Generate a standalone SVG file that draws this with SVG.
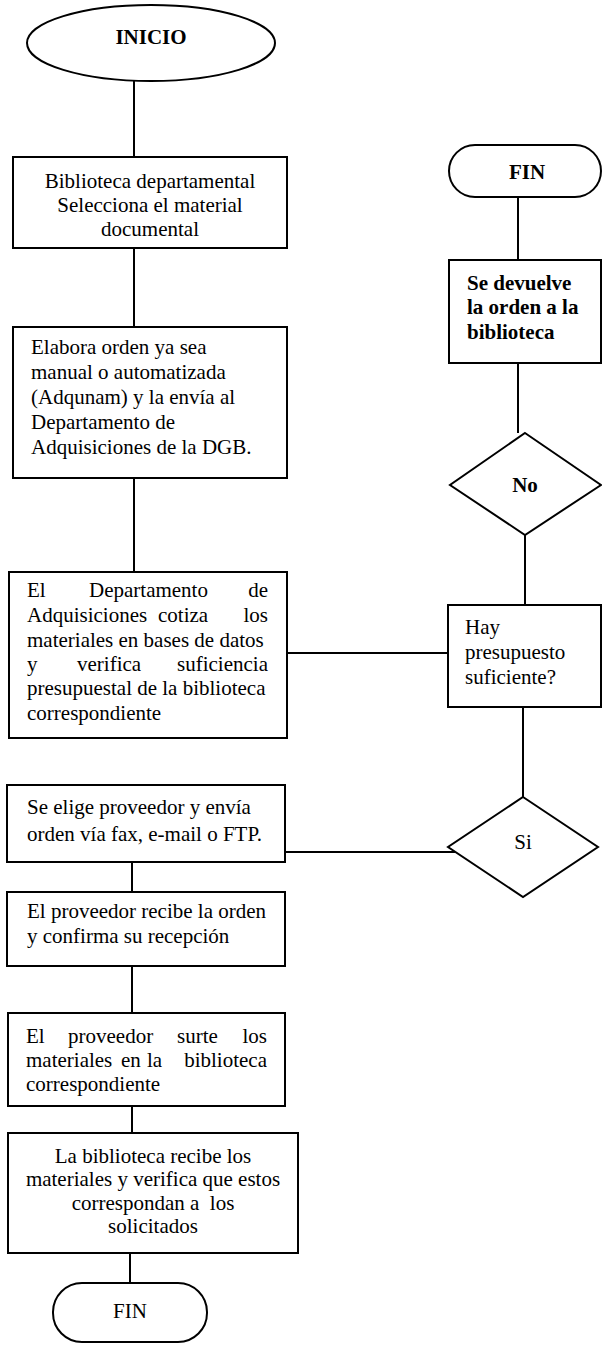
<svg xmlns="http://www.w3.org/2000/svg" width="602" height="1356" viewBox="0 0 602 1356">
<style>
.s{fill:none;stroke:#000;stroke-width:2}
.n{fill:#fff;stroke:#000;stroke-width:2}
text{font-family:"Liberation Serif","Times New Roman",serif;font-size:21px;fill:#000}
.c{text-anchor:middle}
.b{font-weight:bold}
</style>
<rect width="602" height="1356" fill="#fff"/>
<g id="connectors">
<line class="s" x1="134" y1="81" x2="134" y2="157"/>
<line class="s" x1="134" y1="248" x2="134" y2="327"/>
<line class="s" x1="134" y1="478" x2="134" y2="572"/>
<line class="s" x1="287" y1="653" x2="448" y2="653"/>
<line class="s" x1="518" y1="197" x2="518" y2="260"/>
<line class="s" x1="518" y1="363" x2="518" y2="433"/>
<line class="s" x1="525" y1="535" x2="525" y2="605"/>
<line class="s" x1="523" y1="707" x2="523" y2="797"/>
<line class="s" x1="285" y1="852" x2="455" y2="852"/>
<line class="s" x1="132" y1="862" x2="132" y2="892"/>
<line class="s" x1="132" y1="966" x2="132" y2="1013"/>
<line class="s" x1="132" y1="1106" x2="132" y2="1133"/>
<line class="s" x1="130" y1="1253" x2="130" y2="1283"/>
</g>
<g id="inicio">
<ellipse class="n" cx="151" cy="43" rx="124" ry="38"/>
<text class="c b" x="151" y="44">INICIO</text>
</g>
<g id="box1">
<rect class="n" x="13" y="157" width="274" height="91"/>
<text class="c" x="150" y="188">Biblioteca departamental</text>
<text class="c" x="150" y="212">Selecciona el material</text>
<text class="c" x="150" y="236">documental</text>
</g>
<g id="box2">
<rect class="n" x="13" y="327" width="274" height="151"/>
<text x="31" y="354">Elabora orden ya sea</text>
<text x="31" y="379">manual o automatizada</text>
<text x="31" y="404">(Adqunam) y la envía al</text>
<text x="31" y="429">Departamento de</text>
<text x="31" y="454">Adquisiciones de la DGB.</text>
</g>
<g id="box3">
<rect class="n" x="9" y="572" width="278" height="166"/>
<text y="597"><tspan x="27">El</tspan><tspan x="89">Departamento</tspan><tspan x="268" text-anchor="end">de</tspan></text>
<text y="622"><tspan x="27">Adquisiciones</tspan><tspan x="158">cotiza</tspan><tspan x="268" text-anchor="end">los</tspan></text>
<text y="647" x="27">materiales en bases de datos</text>
<text y="671"><tspan x="27">y</tspan><tspan x="77">verifica</tspan><tspan x="268" text-anchor="end">suficiencia</tspan></text>
<text y="695" x="27">presupuestal de la biblioteca</text>
<text y="720" x="27">correspondiente</text>
</g>
<g id="fin-top">
<rect class="n" x="449" y="145" width="152" height="52" rx="26" ry="26"/>
<text class="c b" x="527" y="179">FIN</text>
</g>
<g id="devuelve">
<rect class="n" x="449" y="260" width="152" height="103"/>
<text class="b" x="467" y="290">Se devuelve</text>
<text class="b" x="467" y="314">la orden a la</text>
<text class="b" x="467" y="339">biblioteca</text>
</g>
<g id="dec-no">
<polygon class="n" points="525,433 601,485 525,535 450,485"/>
<text class="c b" x="525" y="492">No</text>
</g>
<g id="hay">
<rect class="n" x="448" y="605" width="153" height="102"/>
<text x="465" y="634">Hay</text>
<text x="465" y="659">presupuesto</text>
<text x="465" y="684">suficiente?</text>
</g>
<g id="dec-si">
<polygon class="n" points="523,797 598,847 523,897 448,847"/>
<text class="c" x="523" y="849">Si</text>
</g>
<g id="box4">
<rect class="n" x="7" y="785" width="278" height="77"/>
<text x="27" y="814">Se elige proveedor y envía</text>
<text x="27" y="841">orden vía fax, e-mail o FTP.</text>
</g>
<g id="box5">
<rect class="n" x="7" y="892" width="278" height="74"/>
<text x="27" y="918">El proveedor recibe la orden</text>
<text x="27" y="943">y confirma su recepción</text>
</g>
<g id="box6">
<rect class="n" x="8" y="1013" width="277" height="93"/>
<text y="1043"><tspan x="26">El</tspan><tspan x="68">proveedor</tspan><tspan x="177">surte</tspan><tspan x="267" text-anchor="end">los</tspan></text>
<text y="1067"><tspan x="26">materiales</tspan><tspan x="121">en</tspan><tspan x="147">la</tspan><tspan x="267" text-anchor="end">biblioteca</tspan></text>
<text x="26" y="1091">correspondiente</text>
</g>
<g id="box7">
<rect class="n" x="8" y="1133" width="290" height="120"/>
<text class="c" x="153" y="1163">La biblioteca recibe los</text>
<text class="c" x="153" y="1186">materiales y verifica que estos</text>
<text class="c" x="153" y="1210">correspondan a&#160; los</text>
<text class="c" x="153" y="1233">solicitados</text>
</g>
<g id="fin-bottom">
<rect class="n" x="53" y="1283" width="154" height="59" rx="29" ry="29"/>
<text class="c" x="130" y="1318">FIN</text>
</g>
</svg>
